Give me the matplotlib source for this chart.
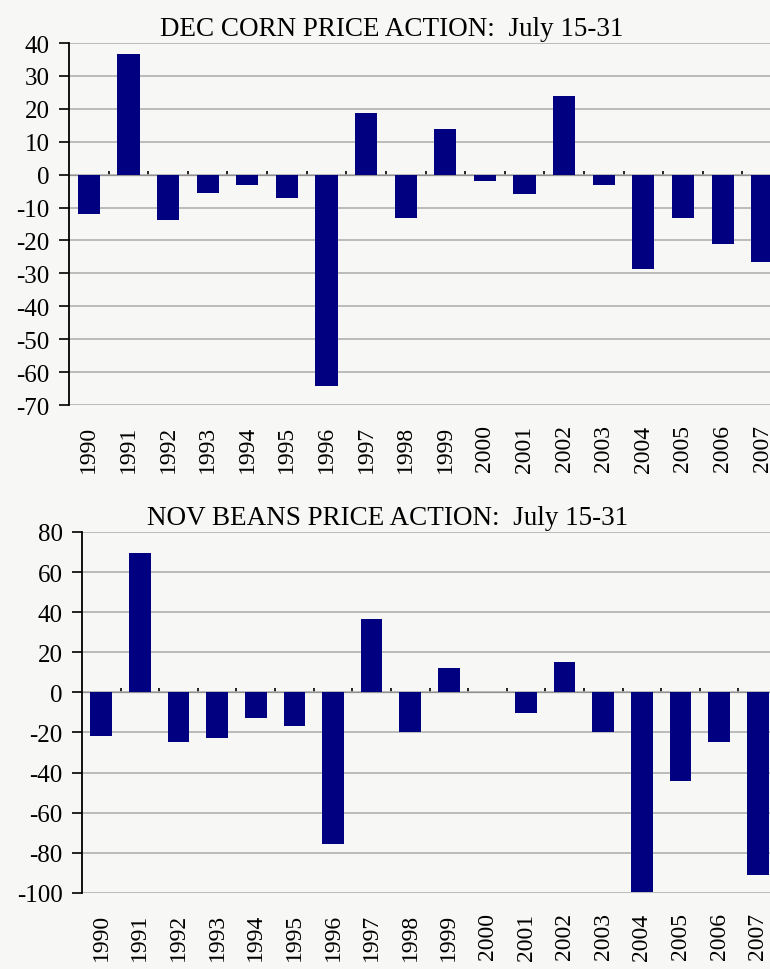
import matplotlib
matplotlib.use("Agg")
import matplotlib.pyplot as plt
import numpy as np

# years shown on both charts
years = ['1990', '1991', '1992', '1993', '1994', '1995', '1996', '1997', '1998',
         '1999', '2000', '2001', '2002', '2003', '2004', '2005', '2006', '2007']

# Dec corn price change, July 15-31 (cents)
corn = [-11.8, 36.6, -13.7, -5.7, -3.0, -7.2, -64.3, 18.6, -13.3,
        13.9, -1.8, -5.9, 24.0, -3.0, -28.8, -13.3, -21.0, -26.6]

# Nov beans price change, July 15-31 (cents)
beans = [-21.7, 69.7, -24.5, -22.8, -13.0, -17.0, -75.5, 36.7, -20.0,
         12.2, 0.0, -10.3, 15.2, -20.0, -99.5, -44.3, -24.7, -91.2]

corn_ticks = [40, 30, 20, 10, 0, -10, -20, -30, -40, -50, -60, -70]
beans_ticks = [80, 60, 40, 20, 0, -20, -40, -60, -80, -100]

plt.rcParams['font.family'] = ['Liberation Serif', 'DejaVu Serif']
plt.rcParams['axes.unicode_minus'] = False

BG = '#f7f8f5'
BAR = '#000080'


def draw_panel(ax, values, ticks, title, title_x):
    x = np.arange(len(years))
    ax.set_facecolor(BG)
    ax.bar(x, values, width=0.56, color=BAR, linewidth=0, zorder=3)
    ax.set_xlim(-0.5, len(years) - 0.5)
    ax.set_ylim(min(ticks), max(ticks))
    ax.set_yticks(ticks)
    ax.set_yticklabels([str(t) for t in ticks])
    ax.set_xticks(x)
    ax.set_xticklabels(years, rotation=90, fontsize=17)
    ax.tick_params(axis='x', length=0, pad=14)
    ax.tick_params(axis='y', direction='out', length=7, width=1.2, labelsize=18, pad=7)
    ax.yaxis.grid(True, color='#b0b0b0', linewidth=1.2, zorder=0)
    for side in ['top', 'right', 'bottom']:
        ax.spines[side].set_visible(False)
    ax.spines['left'].set_linewidth(1.3)

    # category axis sits at zero with tick marks between the bars
    lo, hi = min(ticks), max(ticks)
    zero_ax = ax.secondary_xaxis((0 - lo) / (hi - lo))
    zero_ax.set_xticks(np.arange(1, len(years) + 1) - 0.5)
    zero_ax.set_xticklabels([])
    zero_ax.tick_params(direction='out', length=3, width=1.2)
    zero_ax.spines['bottom'].set_linewidth(1.3)
    ax.set_title(title, fontsize=19.5, pad=6, x=title_x)


fig = plt.figure(figsize=(7.7, 9.7), dpi=100)
fig.patch.set_facecolor(BG)

ax1 = fig.add_axes([0.0896, 0.5814, 0.926, 0.3732])
draw_panel(ax1, corn, corn_ticks, 'DEC CORN PRICE ACTION:  July 15-31', 0.452)

ax2 = fig.add_axes([0.1065, 0.0784, 0.9026, 0.3722])
draw_panel(ax2, beans, beans_ticks, 'NOV BEANS PRICE ACTION:  July 15-31', 0.44)

fig.savefig('out.png', dpi=100, facecolor=BG)
